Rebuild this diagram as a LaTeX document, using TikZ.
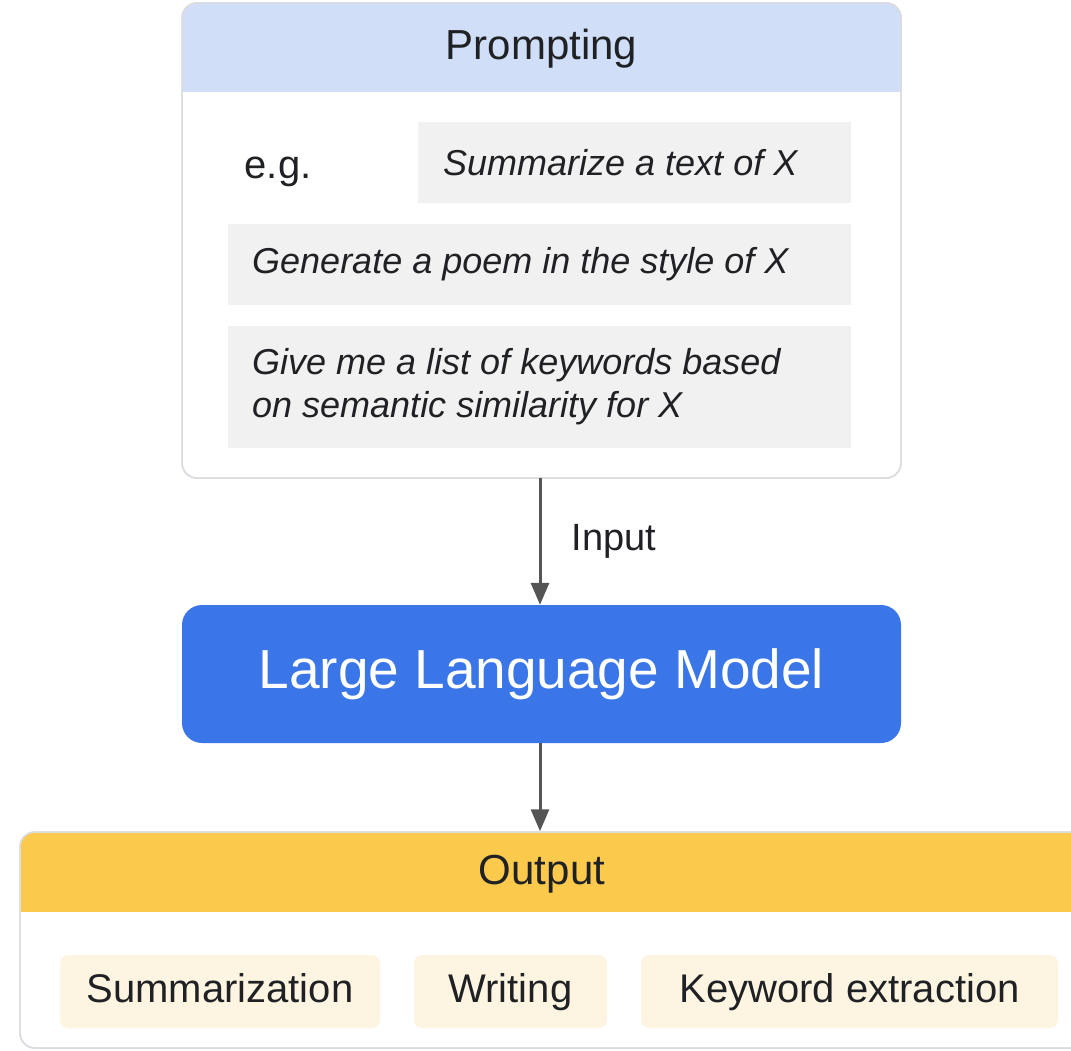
\documentclass[tikz,border=0pt]{standalone}
\usepackage{fontspec}
\setmainfont{Liberation Sans}
\usetikzlibrary{arrows.meta}
\definecolor{hdrblue}{HTML}{D0DEF8}
\definecolor{llmblue}{HTML}{3A76E8}
\definecolor{hdryellow}{HTML}{FBC94C}
\definecolor{chipgray}{HTML}{F1F1F1}
\definecolor{chipcream}{HTML}{FDF5E1}
\definecolor{ink}{HTML}{202124}
\definecolor{arrowgray}{HTML}{555555}
\definecolor{cardedge}{HTML}{DADCE0}
\tikzset{
  fs/.style={font=\fontsize{#1}{#1}\selectfont},
  card/.style={draw=cardedge, line width=1.5pt, fill=white, rounded corners=15pt, inner sep=0pt},
  promptchip/.style={fill=chipgray, inner sep=0pt},
  ptext/.style={text=ink, inner sep=0pt, anchor=west, align=left, font=\fontsize{36}{43}\selectfont\itshape},
  outchip/.style={fill=chipcream, rounded corners=8pt, inner sep=0pt, text=ink, fs=40, text height=29pt, text depth=8pt},
  arr/.style={draw=arrowgray, line width=3pt, -{Triangle[length=22pt,width=18pt]}},
  txt/.style={text=ink, inner sep=0pt}
}
\begin{document}
\begin{tikzpicture}[x=1pt,y=-1pt]
\useasboundingbox (0,0) rectangle (1071,1051);
\fill[white] (0,0) rectangle (1071,1051);
\clip (0,0) rectangle (1071,1051);
% Prompting card
\node[card, minimum width=719pt, minimum height=475pt] (prompt) at (541.5,240.5) {};
\begin{scope}
  \clip[rounded corners=15pt] (182,3) rectangle (901,478);
  \fill[hdrblue] (182,3) rectangle (901,92);
\end{scope}
\draw[cardedge, line width=1.5pt, rounded corners=15pt] (182,3) rectangle (901,478);
\node[txt, fs=42, text height=30pt, text depth=9pt] (prompthdr) at (541.5,49) {Prompting};
\node[txt, fs=40, text height=29pt, text depth=8pt] (eg) at (278,168) {e.g.};
\node[promptchip, minimum width=433pt, minimum height=81pt] (c1) at (634.5,162.5) {};
\node[ptext] (c1t) at (443,162.5) {Summarize a text of X};
\node[promptchip, minimum width=623pt, minimum height=81pt] (c2) at (539.5,264.5) {};
\node[ptext] (c2t) at (252,264.5) {Generate a poem in the style of X};
\node[promptchip, minimum width=623pt, minimum height=122pt] (c3) at (539.5,387) {};
\node[ptext] (c3t) at (252,387) {Give me a list of keywords based\\on semantic similarity for X};
% LLM
\node[fill=llmblue, rounded corners=20pt, minimum width=719pt, minimum height=138pt, inner sep=0pt, text=white, fs=55, text height=40pt, text depth=11pt] (llm) at (541.5,674) {Large Language Model};
% Output card
\node[card, minimum width=1090pt, minimum height=216pt] (out) at (565,940) {};
\begin{scope}
  \clip[rounded corners=15pt] (20,832) rectangle (1110,1048);
  \fill[hdryellow] (20,832) rectangle (1110,912);
\end{scope}
\draw[cardedge, line width=1.5pt, rounded corners=15pt] (20,832) rectangle (1110,1048);
\node[txt, fs=42, text height=30pt, text depth=9pt] (outhdr) at (542,874) {Output};
\node[outchip, minimum width=320pt, minimum height=73pt] (o1) at (220,991.5) {Summarization};
\node[outchip, minimum width=193pt, minimum height=73pt] (o2) at (510.5,991.5) {Writing};
\node[outchip, minimum width=417pt, minimum height=73pt] (o3) at (849.5,991.5) {Keyword extraction};
% connectors
\coordinate (a1) at (540,478);
\coordinate (a2) at (540,743);
\draw[arr] (a1) -- (a1 |- llm.north) node[midway, right=30pt, txt, fs=38] (inputlbl) {Input};
\draw[arr] (a2) -- (a2 |- out.north);
\end{tikzpicture}
\end{document}
